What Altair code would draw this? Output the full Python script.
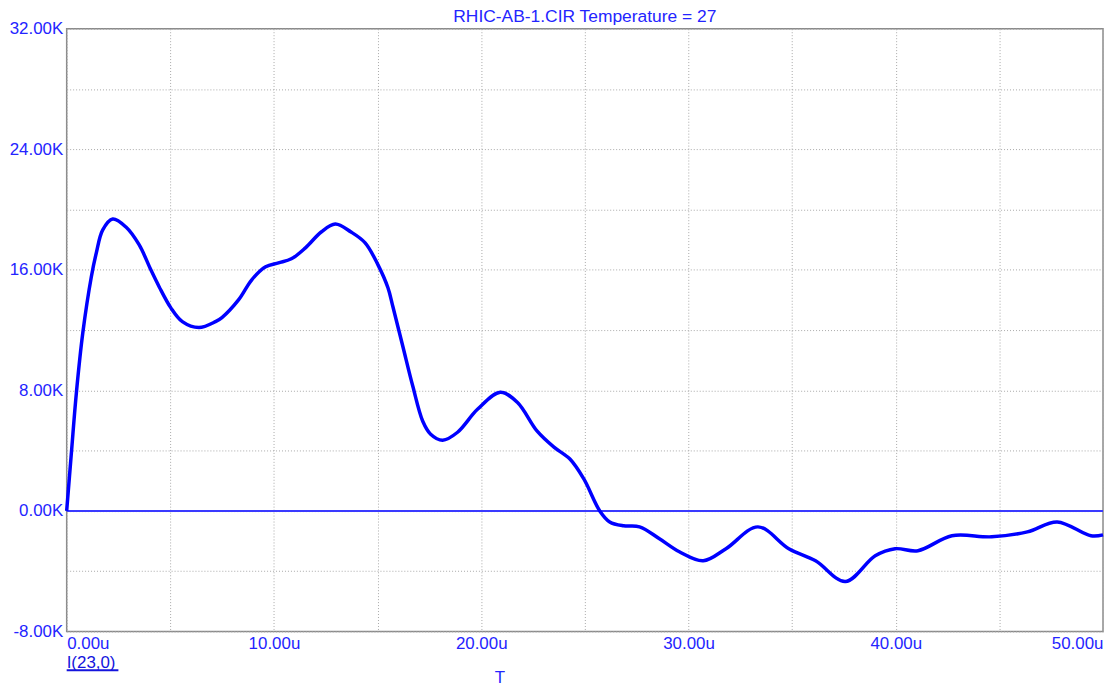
import altair as alt
import pandas as pd

# time in microseconds
t_us = [0.0, 0.23, 0.47, 0.78, 1.19, 1.43, 1.74, 2.22, 2.86, 3.50, 4.06, 4.46, 5.02, 5.58,
        6.38, 7.18, 7.49, 8.30, 8.93, 9.60, 10.22, 10.84, 11.52, 12.28, 12.96, 13.72, 14.40,
        15.02, 15.50, 15.74, 16.22, 16.70, 17.18, 17.56, 18.14, 18.86, 19.82, 20.92, 21.74,
        22.70, 23.51, 24.28, 24.95, 25.72, 26.20,
        26.87, 27.64, 28.60, 29.56, 30.71, 31.81, 33.35, 34.84, 36.13, 37.57, 39.01, 39.97,
        41.07, 42.71, 44.63, 46.35, 47.79, 49.42, 50.0]
# current in thousands (K)
i_k = [0.0, 3.90, 7.87, 11.84, 15.54, 17.13, 18.65, 19.37, 18.84, 17.65, 16.0, 14.88, 13.49, 12.56,
       12.17, 12.56, 12.83, 14.02, 15.34, 16.20, 16.46, 16.73, 17.46, 18.51, 19.04, 18.51, 17.79,
       16.33, 14.81, 13.55, 10.91, 8.27, 5.95, 5.09, 4.69, 5.22, 6.74, 7.87, 7.21,
       5.29, 4.23, 3.44, 2.12, 0.0, -0.73,
       -0.99, -1.06, -1.85, -2.71, -3.31, -2.51, -1.06, -2.51, -3.31, -4.69, -2.98, -2.51,
       -2.64, -1.65, -1.72, -1.39, -0.73, -1.65, -1.59]

x_ticks = [0, 5, 10, 15, 20, 25, 30, 35, 40, 45, 50]
y_ticks = [-8, -4, 0, 4, 8, 12, 16, 20, 24, 28, 32]
zero_line = [0]

title_text = "RHIC-AB-1.CIR Temperature = 27"
trace_label = "I(23,0)"
x_title = "T"

FONT = "Liberation Sans"
BLUE_TXT = "#2424ff"

df = pd.DataFrame({"t": t_us, "i": i_k})
zdf = pd.DataFrame({"z": zero_line})

xscale = alt.Scale(domain=[0, 50], nice=False, zero=False)
yscale = alt.Scale(domain=[-8, 32], nice=False, zero=False)

xaxis = alt.Axis(values=x_ticks, grid=True, tickSize=0, labelPadding=4,
                 labelExpr="datum.value % 10 == 0 ? format(datum.value, '.2f') + 'u' : ''",
                 labelFlush=True, labelOverlap=False, title=x_title,
                 titleX=435, titleY=51, titleBaseline="alphabetic", titleAlign="center",
                 titleFontWeight="normal")
yaxis = alt.Axis(values=y_ticks, grid=True, tickSize=0, labelPadding=4,
                 labelExpr="datum.value % 8 == 0 ? (datum.value < 0 ? '-' : '') + format(abs(datum.value), '.2f') + 'K' : ''",
                 labelOverlap=False, title=None)

curve = alt.Chart(df).mark_line(color="#0000ff", strokeWidth=3.5, interpolate="catmull-rom").encode(
    x=alt.X("t:Q", scale=xscale, axis=xaxis),
    y=alt.Y("i:Q", scale=yscale, axis=yaxis),
)

zero = alt.Chart(zdf).mark_rule(color="#3a3aff", strokeWidth=2).encode(
    y=alt.Y("z:Q", scale=yscale)
)

lab = alt.Chart(pd.DataFrame({"s": [trace_label]})).mark_text(
    align="left", baseline="middle", font=FONT, fontSize=17, color="#1414dd"
).encode(text="s:N", x=alt.value(0), y=alt.value(638))

underline = alt.Chart(pd.DataFrame({"s": [trace_label]})).mark_rule(
    color="#1414dd", strokeWidth=2
).encode(x=alt.value(0), x2=alt.value(52), y=alt.value(645))

chart = alt.layer(zero, curve, lab, underline).properties(
    width=1042, height=606,
    title=alt.TitleParams(title_text, anchor="middle", font=FONT, fontSize=17.5,
                          fontWeight="normal", color=BLUE_TXT, offset=-6),
    autosize=alt.AutoSizeParams(type="none"),
    padding={"left": 59, "top": 19, "right": 2, "bottom": 53},
).configure_view(
    stroke="#8a8a8a", strokeWidth=1.5
).configure_axis(
    labelFont=FONT, labelFontSize=17, labelColor=BLUE_TXT,
    titleFont=FONT, titleFontSize=17, titleColor=BLUE_TXT,
    gridColor="#a8a8a8", gridDash=[1, 2], gridWidth=1,
    domain=False,
)

chart.save("out.html", embed_options={"renderer": "svg", "actions": False})
